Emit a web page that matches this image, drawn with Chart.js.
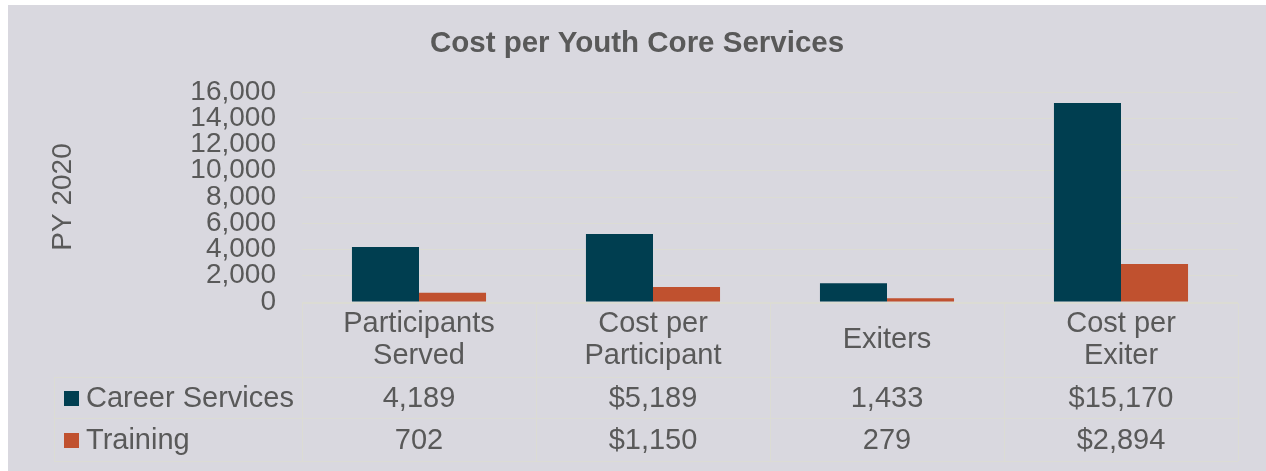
<!DOCTYPE html>
<html>
<head>
<meta charset="utf-8">
<title>Cost per Youth Core Services</title>
<script src="https://cdn.jsdelivr.net/npm/chart.js@4.4.1/dist/chart.umd.min.js"></script>
<style>
  html, body { margin: 0; padding: 0; background: #ffffff; }
  canvas { display: block; }
</style>
</head>
<body>
<canvas id="youthChart" width="1266" height="471"></canvas>
<script>
// Dữ liệu biểu đồ
const chartTitle = 'Cost per Youth Core Services';
const categories = [['Participants', 'Served'], ['Cost per', 'Participant'], ['Exiters'], ['Cost per', 'Exiter']];
const isDollar = [false, true, false, true];
const careerServices = [4189, 5189, 1433, 15170];
const training = [702, 1150, 279, 2894];
const seriesNames = ['Career Services', 'Training'];
const yTicks = [0, 2000, 4000, 6000, 8000, 10000, 12000, 14000, 16000];

const BG = '#d9d8df';
const TEXT = '#595959';
const LINE = '#dcdcd4';
const TEAL = '#003e50';
const ORANGE = '#c0512f';
const FONT = 'Arial, "Liberation Sans", sans-serif';

function fmt(v, dollar) {
    return (dollar ? '$' : '') + v.toLocaleString('en-US');
}

// Nền xám phía sau biểu đồ + tiêu đề căn giữa khung xám
const bgPlugin = {
    id: 'bgPlugin',
    beforeDraw(chart) {
        const ctx = chart.ctx;
        ctx.save();
        ctx.fillStyle = '#ffffff';
        ctx.fillRect(0, 0, chart.width, chart.height);
        ctx.fillStyle = BG;
        ctx.fillRect(8, 5, chart.width - 8, chart.height - 5);
        ctx.fillStyle = TEXT;
        ctx.font = 'bold 29.5px ' + FONT;
        ctx.textAlign = 'center';
        ctx.textBaseline = 'middle';
        ctx.fillText(chartTitle, (8 + chart.width) / 2, 44);
        ctx.restore();
    }
};

// Bảng dữ liệu bên dưới trục X
const tablePlugin = {
    id: 'tablePlugin',
    afterDraw(chart) {
        const ctx = chart.ctx;
        const x = chart.scales.x;
        const area = chart.chartArea;
        const colW = (area.right - area.left) / categories.length;
        const top = area.bottom + 1;
        const row1 = 377, row2 = 418, row3 = 461;
        const tableLeft = 54;

        ctx.save();
        ctx.strokeStyle = LINE;
        ctx.lineWidth = 1;
        ctx.beginPath();
        // đường ngang
        ctx.moveTo(area.left, top + 0.5); ctx.lineTo(area.right, top + 0.5);
        [row1, row2, row3].forEach(y => {
            ctx.moveTo(tableLeft, y + 0.5); ctx.lineTo(area.right, y + 0.5);
        });
        // đường dọc
        ctx.moveTo(tableLeft + 0.5, row1); ctx.lineTo(tableLeft + 0.5, row3);
        for (let i = 0; i <= categories.length; i++) {
            const lx = Math.round(area.left + i * colW) + 0.5;
            ctx.moveTo(lx, top); ctx.lineTo(lx, row3);
        }
        ctx.stroke();

        ctx.fillStyle = TEXT;
        ctx.font = '29px ' + FONT;
        ctx.textAlign = 'center';
        ctx.textBaseline = 'middle';
        const labelMid = (top + row1) / 2;
        categories.forEach((lines, i) => {
            const cx = x.getPixelForValue(i);
            const lh = 32;
            const startY = labelMid - (lines.length - 1) * lh / 2;
            lines.forEach((t, j) => ctx.fillText(t, cx, startY + j * lh));
        });

        const rows = [careerServices, training];
        const colors = [TEAL, ORANGE];
        const rowMids = [(row1 + row2) / 2, (row2 + row3) / 2];
        rows.forEach((vals, r) => {
            const cy = rowMids[r];
            ctx.fillStyle = colors[r];
            ctx.fillRect(64, Math.round(cy - 7), 15, 15);
            ctx.fillStyle = TEXT;
            ctx.textAlign = 'left';
            ctx.fillText(seriesNames[r], 86, cy + 1);
            ctx.textAlign = 'center';
            vals.forEach((v, i) => {
                ctx.fillText(fmt(v, isDollar[i]), x.getPixelForValue(i), cy + 1);
            });
        });
        ctx.restore();
    }
};

const ctx = document.getElementById('youthChart').getContext('2d');
const youthChart = new Chart(ctx, {
    type: 'bar',
    data: {
        labels: categories.map(c => c.join(' ')),
        datasets: [{
            label: seriesNames[0],
            data: careerServices,
            backgroundColor: TEAL
        }, {
            label: seriesNames[1],
            data: training,
            backgroundColor: ORANGE
        }]
    },
    options: {
        responsive: false,
        animation: false,
        devicePixelRatio: 1,
        layout: {
            padding: { left: 8, top: 92, right: 28, bottom: 169 }
        },
        datasets: {
            bar: { barPercentage: 1, categoryPercentage: 0.573 }
        },
        plugins: {
            legend: { display: false },
            tooltip: { enabled: false },
            title: { display: false }
        },
        scales: {
            x: {
                grid: { display: false },
                border: { display: false },
                ticks: { display: false },
                afterFit(scale) { scale.height = 0; }
            },
            y: {
                min: 0,
                max: 16000,
                afterBuildTicks(scale) {
                    scale.ticks = yTicks.map(v => ({ value: v }));
                },
                afterFit(scale) { scale.width = 294; },
                grid: { color: LINE, drawTicks: false },
                border: { display: false },
                ticks: {
                    autoSkip: false,
                    padding: 26,
                    color: TEXT,
                    font: { family: FONT, size: 28 },
                    callback: v => v.toLocaleString('en-US')
                },
                title: {
                    display: true,
                    text: 'PY 2020',
                    color: TEXT,
                    font: { family: FONT, size: 28 },
                    padding: { top: 38, bottom: 0 }
                }
            }
        }
    },
    plugins: [bgPlugin, tablePlugin]
});
</script>
</body>
</html>
